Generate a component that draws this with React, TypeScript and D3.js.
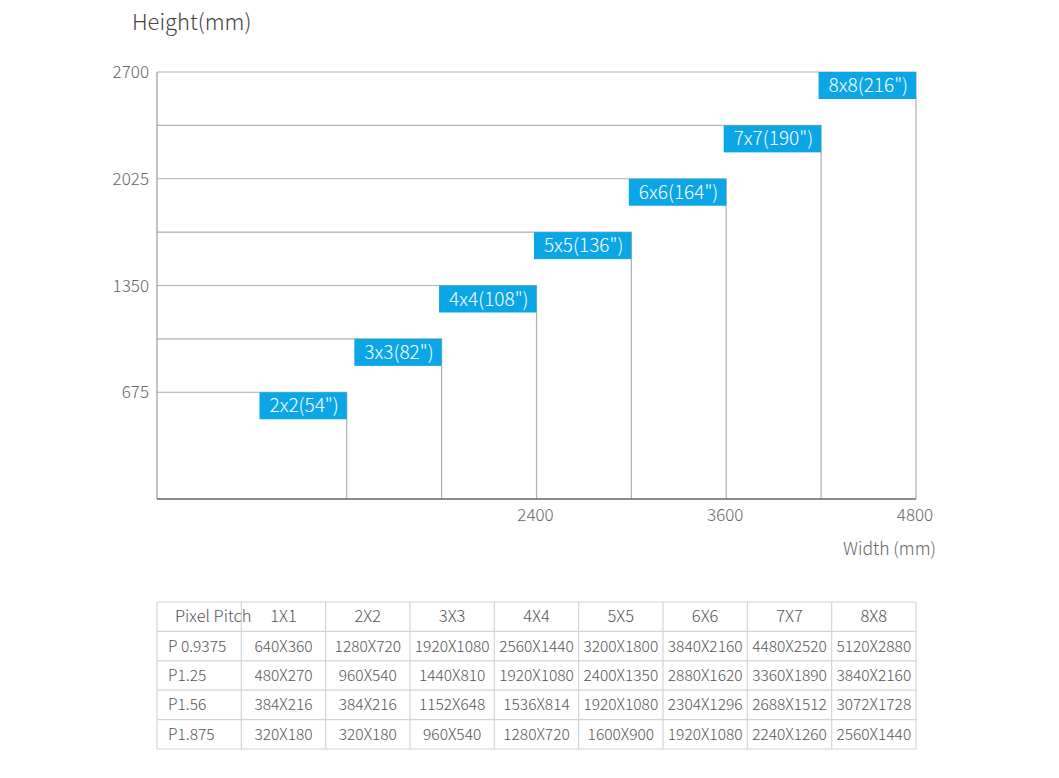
import { useEffect, useRef } from "react";
import * as d3 from "d3";

// screen wall sizes: NxN cabinets, width/height in mm, diagonal in inches
const GRID = ["2x2", "3x3", "4x4", "5x5", "6x6", "7x7", "8x8"];
const WIDTHS = [1200, 1800, 2400, 3000, 3600, 4200, 4800];
const HEIGHTS = [675, 1012.5, 1350, 1687.5, 2025, 2362.5, 2700];
const DIAGONALS = [54, 82, 108, 136, 164, 190, 216];

const Y_TICKS = [675, 1350, 2025, 2700];
const X_TICKS = [2400, 3600, 4800];

const TABLE_HEAD = ["Pixel Pitch", "1X1", "2X2", "3X3", "4X4", "5X5", "6X6", "7X7", "8X8"];
const PITCHES = ["P 0.9375", "P1.25", "P1.56", "P1.875"];
const RESOLUTIONS = [
  ["640X360", "1280X720", "1920X1080", "2560X1440", "3200X1800", "3840X2160", "4480X2520", "5120X2880"],
  ["480X270", "960X540", "1440X810", "1920X1080", "2400X1350", "2880X1620", "3360X1890", "3840X2160"],
  ["384X216", "384X216", "1152X648", "1536X814", "1920X1080", "2304X1296", "2688X1512", "3072X1728"],
  ["320X180", "320X180", "960X540", "1280X720", "1600X900", "1920X1080", "2240X1260", "2560X1440"],
];

const W = 1059;
const H = 778;
const FONT = "'Noto Sans CJK SC', 'Noto Sans', sans-serif";

export default function App() {
  const ref = useRef<SVGSVGElement | null>(null);

  useEffect(() => {
    const svg = d3.select(ref.current);
    svg.selectAll("*").remove();

    const x = d3.scaleLinear().domain([0, 4800]).range([157, 916]);
    const y = d3.scaleLinear().domain([0, 2700]).range([499, 72]);

    svg
      .append("text")
      .attr("x", 132)
      .attr("y", 30)
      .attr("font-size", 22)
      .attr("font-weight", 300)
      .attr("fill", "#444")
      .text("Height(mm)");

    // rectangles: top edge from y axis to right edge, right edge down to x axis
    const data = GRID.map((g, i) => ({ g, w: WIDTHS[i], h: HEIGHTS[i], d: DIAGONALS[i] }));
    svg
      .append("g")
      .selectAll("path")
      .data(data)
      .join("path")
      .attr("d", (d) => `M${x(0)},${y(d.h)}H${x(d.w)}V${y(0)}`)
      .attr("fill", "none")
      .attr("stroke", "#b0b0b0")
      .attr("stroke-width", 1.2);

    // axes
    svg
      .append("line")
      .attr("x1", x(0))
      .attr("x2", x(0))
      .attr("y1", y(2700))
      .attr("y2", y(0))
      .attr("stroke", "#999")
      .attr("stroke-width", 1.2);
    svg
      .append("line")
      .attr("x1", x(0))
      .attr("x2", x(4800))
      .attr("y1", y(0))
      .attr("y2", y(0))
      .attr("stroke", "#666")
      .attr("stroke-width", 1.4);

    svg
      .append("g")
      .selectAll("text")
      .data(Y_TICKS)
      .join("text")
      .attr("x", 149)
      .attr("y", (d) => y(d) + 6)
      .attr("text-anchor", "end")
      .attr("font-size", 17)
      .attr("font-weight", 300)
      .attr("fill", "#666")
      .text((d) => d);

    svg
      .append("g")
      .selectAll("text")
      .data(X_TICKS)
      .join("text")
      .attr("x", (d) => x(d) - 1)
      .attr("y", 521)
      .attr("text-anchor", "middle")
      .attr("font-size", 17)
      .attr("font-weight", 300)
      .attr("fill", "#666")
      .text((d) => d);

    svg
      .append("text")
      .attr("x", 936)
      .attr("y", 555)
      .attr("text-anchor", "end")
      .attr("font-size", 17.5)
      .attr("font-weight", 300)
      .attr("fill", "#666")
      .text("Width (mm)");

    // blue labels at each rectangle's top-right corner
    const labels = svg
      .append("g")
      .selectAll("g")
      .data(data)
      .join("g")
      .attr("transform", (d) => `translate(${x(d.w)},${y(d.h)})`);
    const box = labels.append("rect").attr("y", 0).attr("height", 27).attr("fill", "#0ba6e6");
    const txt = labels
      .append("text")
      .attr("x", -8)
      .attr("y", 20)
      .attr("text-anchor", "end")
      .attr("font-size", 19)
      .attr("font-weight", 300)
      .attr("fill", "#fff")
      .text((d) => `${d.g}(${d.d}")`);
    txt.each(function (_, i) {
      const len = (this as SVGTextElement).getComputedTextLength();
      d3.select(box.nodes()[i]).attr("x", -(len + 18)).attr("width", len + 18);
    });

    // resolution table
    const cols = d3.range(TABLE_HEAD.length);
    const cx = d3.scaleBand<number>().domain(cols).range([157, 916]);
    const rowsAll = [TABLE_HEAD, ...PITCHES.map((p, i) => [p, ...RESOLUTIONS[i]])];
    const ry = d3.scaleBand<number>().domain(d3.range(rowsAll.length)).range([602, 749]);
    const t = svg.append("g");

    t.selectAll("line.h")
      .data(d3.range(rowsAll.length + 1))
      .join("line")
      .attr("class", "h")
      .attr("x1", 157)
      .attr("x2", 916)
      .attr("y1", (i) => 602 + i * ry.bandwidth())
      .attr("y2", (i) => 602 + i * ry.bandwidth())
      .attr("stroke", "#d4d4d4")
      .attr("stroke-width", 1.2);
    t.selectAll("line.v")
      .data(d3.range(cols.length + 1))
      .join("line")
      .attr("class", "v")
      .attr("x1", (i) => 157 + i * cx.bandwidth())
      .attr("x2", (i) => 157 + i * cx.bandwidth())
      .attr("y1", 602)
      .attr("y2", 749)
      .attr("stroke", "#d4d4d4")
      .attr("stroke-width", 1.2);

    rowsAll.forEach((row, r) => {
      t.append("g")
        .selectAll("text")
        .data(row)
        .join("text")
        .attr("x", (_, c) => (c === 0 ? (cx(0) ?? 0) + (r === 0 ? 18 : 11) : (cx(c) ?? 0) + cx.bandwidth() / 2))
        .attr("y", (ry(r) ?? 0) + ry.bandwidth() / 2 + 5.5)
        .attr("text-anchor", (_, c) => (c === 0 ? "start" : "middle"))
        .attr("font-size", r === 0 ? 16.5 : 15.5)
        .attr("font-weight", 300)
        .attr("fill", "#555")
        .text((d) => d);
    });
  }, []);

  return (
    <div style={{ position: "absolute", left: 0, top: 0 }}>
      <svg ref={ref} width={W} height={H} style={{ fontFamily: FONT, display: "block", background: "#fff" }} />
    </div>
  );
}
